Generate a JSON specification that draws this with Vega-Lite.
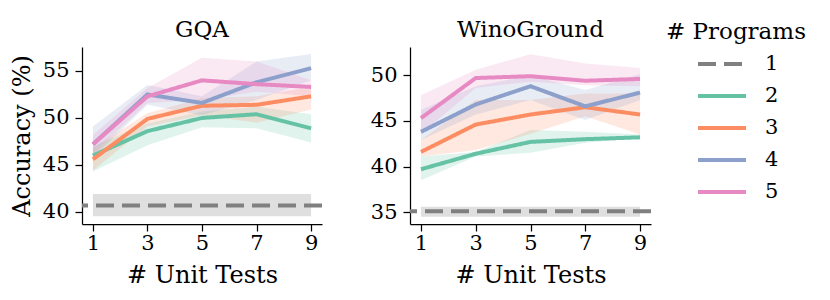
{
  "$schema": "https://vega.github.io/schema/vega-lite/v6.json",
  "padding": {"left": 10, "top": 19, "right": 5, "bottom": 5},
  "background": "white",
  "config": {
    "font": "DejaVu Serif",
    "view": {"stroke": null},
    "axis": {"grid": false, "domainColor": "black", "tickColor": "black", "domainWidth": 1.25, "tickWidth": 1.25, "tickSize": 7, "labelColor": "black", "labelFontSize": 21, "titleFontSize": 24, "titleFontWeight": "normal", "labelFont": "DejaVu Serif", "titleFont": "DejaVu Serif", "titleColor": "black", "labelPadding": 6, "titlePadding": 8},
    "axisX": {"labelPadding": 1, "titlePadding": 10},
    "title": {"fontSize": 23, "fontWeight": "normal", "font": "DejaVu Serif", "color": "black", "offset": 5},
    "legend": {"titleFontSize": 23, "titleFontWeight": "normal", "labelFontSize": 21, "titleFont": "DejaVu Serif", "labelFont": "DejaVu Serif", "labelColor": "black", "titleColor": "black", "symbolType": "M-1.6,0H1.6", "symbolStrokeWidth": 4, "symbolSize": 900, "rowPadding": 5, "symbolOffset": 39, "labelOffset": 26, "titlePadding": 3, "orient": "none", "legendX": 584, "legendY": -26}
  },
  "datasets": {
    "main": [
      {"d": "GQA", "p": "2", "x": 1, "y": 46.0, "lo": 44.3, "hi": 47.0},
      {"d": "GQA", "p": "2", "x": 3, "y": 48.6, "lo": 47.1, "hi": 49.4},
      {"d": "GQA", "p": "2", "x": 5, "y": 50.0, "lo": 49.0, "hi": 50.7},
      {"d": "GQA", "p": "2", "x": 7, "y": 50.4, "lo": 48.9, "hi": 51.2},
      {"d": "GQA", "p": "2", "x": 9, "y": 48.9, "lo": 47.4, "hi": 50.4},
      {"d": "GQA", "p": "3", "x": 1, "y": 45.6, "lo": 44.4, "hi": 46.8},
      {"d": "GQA", "p": "3", "x": 3, "y": 49.9, "lo": 49.1, "hi": 50.5},
      {"d": "GQA", "p": "3", "x": 5, "y": 51.3, "lo": 50.3, "hi": 52.1},
      {"d": "GQA", "p": "3", "x": 7, "y": 51.4, "lo": 49.5, "hi": 52.3},
      {"d": "GQA", "p": "3", "x": 9, "y": 52.3, "lo": 50.9, "hi": 53.3},
      {"d": "GQA", "p": "4", "x": 1, "y": 47.2, "lo": 45.8, "hi": 49.1},
      {"d": "GQA", "p": "4", "x": 3, "y": 52.5, "lo": 51.4, "hi": 53.5},
      {"d": "GQA", "p": "4", "x": 5, "y": 51.6, "lo": 50.3, "hi": 52.3},
      {"d": "GQA", "p": "4", "x": 7, "y": 53.8, "lo": 51.9, "hi": 56.0},
      {"d": "GQA", "p": "4", "x": 9, "y": 55.3, "lo": 54.0, "hi": 56.8},
      {"d": "GQA", "p": "5", "x": 1, "y": 47.2, "lo": 46.2, "hi": 48.2},
      {"d": "GQA", "p": "5", "x": 3, "y": 52.3, "lo": 51.6, "hi": 53.2},
      {"d": "GQA", "p": "5", "x": 5, "y": 54.0, "lo": 51.9, "hi": 56.4},
      {"d": "GQA", "p": "5", "x": 7, "y": 53.6, "lo": 52.8, "hi": 56.0},
      {"d": "GQA", "p": "5", "x": 9, "y": 53.3, "lo": 52.3, "hi": 54.0},
      {"d": "Wino", "p": "2", "x": 1, "y": 39.7, "lo": 38.5, "hi": 41.1},
      {"d": "Wino", "p": "2", "x": 3, "y": 41.4, "lo": 41.1, "hi": 41.6},
      {"d": "Wino", "p": "2", "x": 5, "y": 42.7, "lo": 41.5, "hi": 44.0},
      {"d": "Wino", "p": "2", "x": 7, "y": 43.0, "lo": 42.6, "hi": 43.8},
      {"d": "Wino", "p": "2", "x": 9, "y": 43.2, "lo": 43.1, "hi": 43.5},
      {"d": "Wino", "p": "3", "x": 1, "y": 41.6, "lo": 41.1, "hi": 42.9},
      {"d": "Wino", "p": "3", "x": 3, "y": 44.6, "lo": 41.8, "hi": 47.3},
      {"d": "Wino", "p": "3", "x": 5, "y": 45.7, "lo": 43.6, "hi": 47.3},
      {"d": "Wino", "p": "3", "x": 7, "y": 46.5, "lo": 45.5, "hi": 48.0},
      {"d": "Wino", "p": "3", "x": 9, "y": 45.7, "lo": 43.5, "hi": 48.0},
      {"d": "Wino", "p": "4", "x": 1, "y": 43.8, "lo": 42.9, "hi": 46.2},
      {"d": "Wino", "p": "4", "x": 3, "y": 46.8, "lo": 45.7, "hi": 48.8},
      {"d": "Wino", "p": "4", "x": 5, "y": 48.8, "lo": 47.3, "hi": 50.0},
      {"d": "Wino", "p": "4", "x": 7, "y": 46.6, "lo": 45.1, "hi": 48.4},
      {"d": "Wino", "p": "4", "x": 9, "y": 48.1, "lo": 47.3, "hi": 50.1},
      {"d": "Wino", "p": "5", "x": 1, "y": 45.3, "lo": 43.6, "hi": 47.8},
      {"d": "Wino", "p": "5", "x": 3, "y": 49.7, "lo": 48.6, "hi": 50.6},
      {"d": "Wino", "p": "5", "x": 5, "y": 49.9, "lo": 49.3, "hi": 52.3},
      {"d": "Wino", "p": "5", "x": 7, "y": 49.4, "lo": 48.9, "hi": 51.3},
      {"d": "Wino", "p": "5", "x": 9, "y": 49.6, "lo": 48.8, "hi": 50.8}
    ],
    "base": [
      {"d": "GQA", "p": "1", "xs": 1, "xe": 9, "y": 40.7, "lo": 39.55, "hi": 41.9},
      {"d": "Wino", "p": "1", "xs": 1, "xe": 9, "y": 35.1, "lo": 34.5, "hi": 35.6}
    ]
  },
  "hconcat": [
    {
      "title": "GQA",
      "width": 240,
      "height": 177,
      "layer": [
        {
          "data": {"name": "base"},
          "transform": [{"filter": "datum.d === 'GQA'"}],
          "mark": {"type": "rect", "color": "#808080", "opacity": 0.25},
          "encoding": {
            "x": {"field": "xs", "type": "quantitative", "scale": {"domain": [0.6, 9.4], "nice": false, "zero": false}, "axis": {"values": [1, 3, 5, 7, 9], "title": "# Unit Tests"}},
            "x2": {"field": "xe"},
            "y": {"field": "lo", "type": "quantitative", "scale": {"domain": [38.72, 57.55], "nice": false, "zero": false}, "axis": {"values": [40, 45, 50, 55], "title": "Accuracy (%)"}},
            "y2": {"field": "hi"}
          }
        },
        {
          "data": {"name": "main"},
          "transform": [{"filter": "datum.d === 'GQA'"}],
          "mark": {"type": "area", "opacity": 0.2},
          "encoding": {
            "x": {"field": "x", "type": "quantitative"},
            "y": {"field": "lo", "type": "quantitative"},
            "y2": {"field": "hi"},
            "fill": {"field": "p", "type": "nominal", "scale": {"domain": ["2", "3", "4", "5"], "range": ["#66c2a5", "#fc8d62", "#8da0cb", "#e78ac3"]}, "legend": null}
          }
        },
        {
          "data": {"name": "base"},
          "transform": [{"filter": "datum.d === 'GQA'"}],
          "mark": {"type": "rule", "strokeWidth": 4},
          "encoding": {
            "y": {"field": "y", "type": "quantitative"},
            "color": {"field": "p", "type": "nominal", "title": "# Programs", "scale": {"domain": ["1", "2", "3", "4", "5"], "range": ["#808080", "#66c2a5", "#fc8d62", "#8da0cb", "#e78ac3"]}},
            "strokeDash": {"field": "p", "type": "nominal", "title": "# Programs", "scale": {"domain": ["1", "2", "3", "4", "5"], "range": [[18, 8], [1, 0], [1, 0], [1, 0], [1, 0]]}}
          }
        },
        {
          "data": {"name": "main"},
          "transform": [{"filter": "datum.d === 'GQA'"}],
          "mark": {"type": "line", "strokeWidth": 4},
          "encoding": {
            "x": {"field": "x", "type": "quantitative"},
            "y": {"field": "y", "type": "quantitative"},
            "color": {"field": "p", "type": "nominal", "title": "# Programs"},
            "strokeDash": {"field": "p", "type": "nominal", "title": "# Programs"}
          }
        }
      ]
    },
    {
      "title": "WinoGround",
      "width": 241,
      "height": 177,
      "layer": [
        {
          "data": {"name": "base"},
          "transform": [{"filter": "datum.d === 'Wino'"}],
          "mark": {"type": "rect", "color": "#808080", "opacity": 0.25},
          "encoding": {
            "x": {"field": "xs", "type": "quantitative", "scale": {"domain": [0.6, 9.4], "nice": false, "zero": false}, "axis": {"values": [1, 3, 5, 7, 9], "title": "# Unit Tests"}},
            "x2": {"field": "xe"},
            "y": {"field": "lo", "type": "quantitative", "scale": {"domain": [33.7, 53.1], "nice": false, "zero": false}, "axis": {"values": [35, 40, 45, 50], "title": null}},
            "y2": {"field": "hi"}
          }
        },
        {
          "data": {"name": "main"},
          "transform": [{"filter": "datum.d === 'Wino'"}],
          "mark": {"type": "area", "opacity": 0.2},
          "encoding": {
            "x": {"field": "x", "type": "quantitative"},
            "y": {"field": "lo", "type": "quantitative"},
            "y2": {"field": "hi"},
            "fill": {"field": "p", "type": "nominal", "legend": null}
          }
        },
        {
          "data": {"name": "base"},
          "transform": [{"filter": "datum.d === 'Wino'"}],
          "mark": {"type": "rule", "strokeWidth": 4},
          "encoding": {
            "y": {"field": "y", "type": "quantitative"},
            "color": {"field": "p", "type": "nominal", "title": "# Programs"},
            "strokeDash": {"field": "p", "type": "nominal", "title": "# Programs"}
          }
        },
        {
          "data": {"name": "main"},
          "transform": [{"filter": "datum.d === 'Wino'"}],
          "mark": {"type": "line", "strokeWidth": 4},
          "encoding": {
            "x": {"field": "x", "type": "quantitative"},
            "y": {"field": "y", "type": "quantitative"},
            "color": {"field": "p", "type": "nominal", "title": "# Programs"},
            "strokeDash": {"field": "p", "type": "nominal", "title": "# Programs"}
          }
        }
      ]
    }
  ],
  "spacing": 46
}
